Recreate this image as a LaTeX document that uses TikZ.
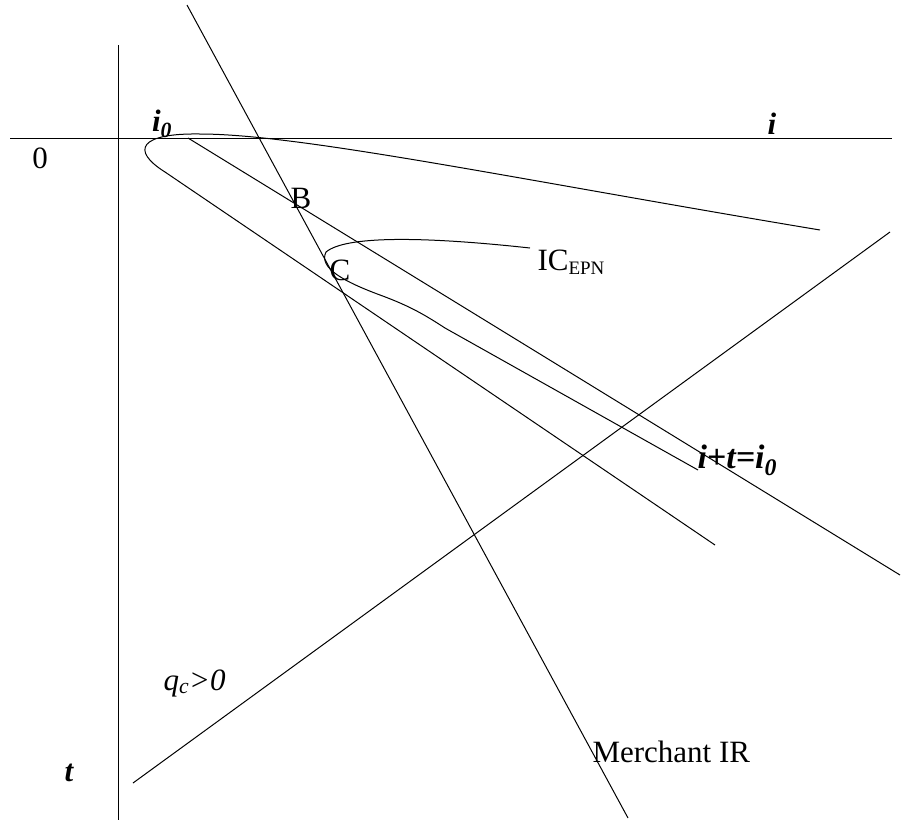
\documentclass[tikz,border=0pt]{standalone}
\usepackage{fontspec}
\setmainfont{Liberation Serif}
\begin{document}
\begin{tikzpicture}[x=1pt,y=-1pt,line width=1pt,
  lbl/.style={inner sep=0pt,font=\fontsize{31}{33}\selectfont},
  blbl/.style={inner sep=0pt,font=\fontsize{31}{33}\selectfont\bfseries\itshape}]
\useasboundingbox (0,0) rectangle (903,820);
% axes
\coordinate (hx0) at (10,138); \coordinate (hx1) at (892,138);
\coordinate (vy0) at (118,45); \coordinate (vy1) at (118,820);
\draw (hx0) -- (hx1);
\draw (vy0) -- (vy1);
% straight lines
\coordinate (b0) at (188,138); \coordinate (b1) at (900,575);
\draw (b0) -- (b1);
\coordinate (m0) at (187,5); \coordinate (m1) at (628,818);
\draw (m0) -- (m1);
\coordinate (q0) at (133,783); \coordinate (q1) at (890,232);
\draw (q0) -- (q1);
% outer curve
\coordinate (o0) at (820,230); \coordinate (o1) at (200,134);
\coordinate (o2) at (165,172); \coordinate (o3) at (715,545);
\draw (o0) .. controls (520,180) and (300,134) .. (o1)
  .. controls (140,133) and (130,150) .. (o2) -- (o3);
% inner curve
\coordinate (c0) at (530,248); \coordinate (c1) at (326,252);
\coordinate (c2) at (380,295); \coordinate (c3) at (445,328);
\coordinate (c4) at (698,470);
\draw (c0) .. controls (420,236) and (345,236) .. (c1)
  .. controls (318,268) and (345,282) .. (c2)
  .. controls (410,306) and (425,315) .. (c3) -- (c4);
% labels
\node[lbl] (zero) at (40,158) {0};
\node[blbl] (ilab) at (772,124) {i};
\node[blbl] (izero) at (162,124) {i\textsubscript{0}};
\node[blbl] (tlab) at (69,773) {t};
\node[lbl] (B) at (301,198) {B};
\node[lbl] (C) at (340,270) {C};
\node[lbl,anchor=west] (IC) at (537,262) {IC\textsubscript{\fontsize{19}{20}\selectfont EPN}};
\node[blbl,anchor=west,font=\fontsize{34}{36}\selectfont\bfseries\itshape] (eq) at (697,460) {i+t=i\textsubscript{0}};
\node[lbl,anchor=west,font=\fontsize{31}{33}\selectfont\itshape] (qc) at (163,683) {q\textsubscript{c}>0};
\node[lbl,anchor=west] (mir) at (592,752) {Merchant IR};
\end{tikzpicture}
\end{document}
